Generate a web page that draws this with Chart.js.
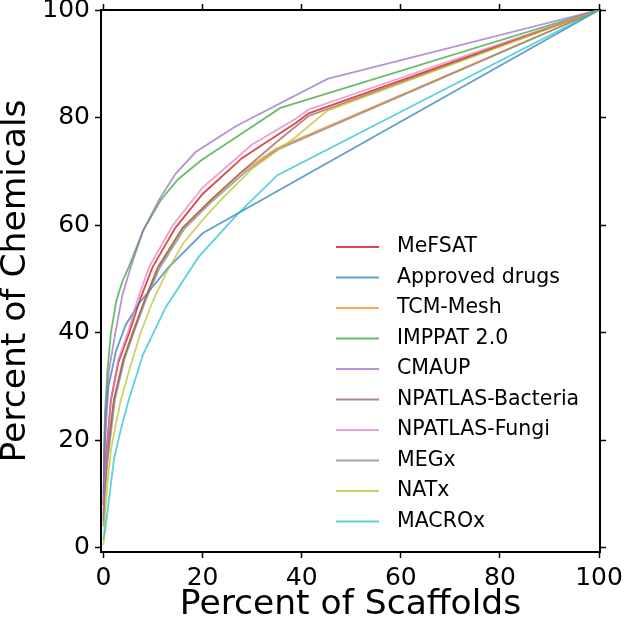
<!DOCTYPE html>
<html>
<head>
<meta charset="utf-8">
<script src="https://cdn.jsdelivr.net/npm/chart.js@4/dist/chart.umd.min.js"></script>
<style>
  html, body { margin: 0; padding: 0; background: #fff; }
  #wrap { width: 625px; height: 619px; }
</style>
</head>
<body>
<div id="wrap"><canvas id="scaffold-chart" width="625" height="619"></canvas></div>
<script>
// Cumulative scaffold curves: % of chemicals covered vs % of scaffolds.
var X_TICKS = [0, 20, 40, 60, 80, 100];
var Y_TICKS = [0, 20, 40, 60, 80, 100];

var MEFSAT_X = [0, 0.2, 0.6, 1.5, 3, 5.2, 7.5, 9.9, 14.5, 20, 28, 38.8, 41.4, 100];
var MEFSAT_Y = [8, 13, 18, 27.5, 34.5, 40, 46.5, 52.2, 59.5, 65.8, 72.5, 79, 80.8, 100];

var DRUGS_X = [0, 0.2, 0.5, 1, 2.5, 4.5, 7.2, 13, 20, 100];
var DRUGS_Y = [10, 17, 23, 30, 36.5, 41.5, 45.5, 52, 58.5, 100];

var TCM_X = [0, 0.2, 0.7, 2.1, 4, 5.9, 8.5, 11, 16, 21.7, 28, 35, 100];
var TCM_Y = [5, 10, 16, 27.5, 35, 40, 46.5, 52.2, 59.5, 64.7, 70, 74.3, 100];

var IMPPAT_X = [0, 0.1, 0.3, 0.8, 1.5, 2.6, 3.8, 5.1, 8, 11.6, 15, 19.8, 27, 35.7, 100];
var IMPPAT_Y = [10, 18, 25, 33, 40, 46, 49.5, 52.2, 59, 64.7, 68.5, 72.1, 76.5, 81.8, 100];

var CMAUP_X = [0, 0.15, 0.4, 1.1, 2.4, 3.8, 5.5, 8, 11.2, 14.5, 18.6, 26.7, 45.2, 100];
var CMAUP_Y = [8, 16, 25, 33, 40, 47, 52.2, 59, 64.7, 69.5, 73.6, 78.4, 87.2, 100];

var BACT_X = [0, 0.2, 0.7, 2.1, 4, 5.9, 8.5, 11, 16, 21.7, 28, 35, 41.4, 100];
var BACT_Y = [6, 11, 17, 27.5, 35, 40, 46.5, 52.2, 59.5, 64.7, 70, 75.5, 80.3, 100];

var FUNGI_X = [0, 0.15, 0.5, 1.5, 3, 4.9, 7, 9.2, 14, 20, 30, 38.8, 41.4, 100];
var FUNGI_Y = [5, 10, 16, 27.5, 35, 40, 46.5, 52.2, 60, 67, 75, 79.8, 81.5, 100];

var MEGX_X = [0, 0.2, 0.8, 2.3, 4.2, 6.1, 8.7, 11.3, 16.3, 22, 28.5, 35, 100];
var MEGX_Y = [4, 9, 16, 27.5, 35, 40, 46.5, 52, 59.3, 64.5, 69.8, 74, 100];

var NATX_X = [0, 0.3, 0.8, 1.5, 2.5, 3.5, 5.5, 7.5, 10, 12.6, 16, 20, 23.7, 30, 38.8, 45.2, 100];
var NATX_Y = [0.5, 6, 12, 18.2, 23, 27.5, 34, 40, 46, 51, 56.5, 61, 64.7, 70.5, 76.4, 81.3, 100];

var MACROX_X = [0, 0.3, 1.1, 2.1, 3.5, 5.1, 8, 12.6, 19.2, 27, 35.1, 100];
var MACROX_Y = [1.5, 3, 8.9, 16.4, 22, 27.5, 36, 44.8, 54.1, 62, 69.3, 100];

var SERIES = [
  { label: 'MeFSAT',            color: 'rgba(214,39,40,0.85)',  xs: MEFSAT_X, ys: MEFSAT_Y },
  { label: 'Approved drugs',    color: 'rgba(31,119,180,0.7)',  xs: DRUGS_X,  ys: DRUGS_Y },
  { label: 'TCM-Mesh',          color: 'rgba(255,127,14,0.7)',  xs: TCM_X,    ys: TCM_Y },
  { label: 'IMPPAT 2.0',        color: 'rgba(44,160,44,0.7)',   xs: IMPPAT_X, ys: IMPPAT_Y },
  { label: 'CMAUP',             color: 'rgba(148,103,189,0.7)', xs: CMAUP_X,  ys: CMAUP_Y },
  { label: 'NPATLAS-Bacteria',  color: 'rgba(140,86,75,0.7)',   xs: BACT_X,   ys: BACT_Y },
  { label: 'NPATLAS-Fungi',     color: 'rgba(227,119,194,0.7)', xs: FUNGI_X,  ys: FUNGI_Y },
  { label: 'MEGx',              color: 'rgba(127,127,127,0.7)', xs: MEGX_X,   ys: MEGX_Y },
  { label: 'NATx',              color: 'rgba(188,189,34,0.7)',  xs: NATX_X,   ys: NATX_Y },
  { label: 'MACROx',            color: 'rgba(23,190,207,0.7)',  xs: MACROX_X, ys: MACROX_Y }
];

var FONT = 'DejaVu Sans';

// legend drawn inside the plot, no frame (matplotlib style)
var insideLegend = {
  id: 'insideLegend',
  afterDraw: function(chart) {
    var ctx = chart.ctx;
    ctx.save();
    ctx.font = '20.5px "' + FONT + '"';
    ctx.textBaseline = 'middle';
    ctx.fillStyle = '#000';
    chart.data.datasets.forEach(function(ds, i) {
      var y = 247 + i * 30.5;
      ctx.strokeStyle = ds.borderColor;
      ctx.lineWidth = 2;
      ctx.beginPath();
      ctx.moveTo(336, y);
      ctx.lineTo(379, y);
      ctx.stroke();
      ctx.fillText(ds.label, 397, y);
    });
    ctx.restore();
  }
};

function fixedTicks(list) {
  return function(scale) {
    scale.ticks = list.map(function(v) { return { value: v }; });
  };
}

var gridOpts = { drawOnChartArea: false, drawTicks: true, tickLength: 6, tickColor: '#000', tickWidth: 1.5 };
var borderOpts = { display: true, color: '#000', width: 2 };

var datasets = SERIES.map(function(s, i) {
  return {
    label: s.label,
    data: s.xs.map(function(x, k) { return { x: x, y: s.ys[k] }; }),
    borderColor: s.color,
    backgroundColor: s.color,
    borderWidth: 1.8,
    pointRadius: 0,
    tension: 0,
    fill: false,
    order: SERIES.length - 1 - i
  };
});

new Chart(document.getElementById('scaffold-chart'), {
  type: 'line',
  data: { datasets: datasets },
  options: {
    responsive: false,
    animation: false,
    layout: { padding: 0 },
    plugins: { legend: { display: false }, tooltip: { enabled: false } },
    scales: {
      x: {
        type: 'linear', position: 'bottom', min: -0.5, max: 100.2,
        afterBuildTicks: fixedTicks(X_TICKS),
        afterFit: function(s) { s.height = 67; s.paddingLeft = 0; s.paddingRight = 0; },
        ticks: { font: { family: FONT, size: 25 }, color: '#000', padding: 5, maxRotation: 0, autoSkip: false },
        grid: gridOpts, border: borderOpts,
        title: { display: true, text: 'Percent of Scaffolds', color: '#000', padding: 0,
                 font: { family: FONT, size: 34.5, lineHeight: 0.8 } }
      },
      y: {
        type: 'linear', position: 'left', min: -0.75, max: 100,
        afterBuildTicks: fixedTicks(Y_TICKS),
        afterFit: function(s) { s.width = 101; s.paddingTop = 0; s.paddingBottom = 0; },
        ticks: { font: { family: FONT, size: 25 }, color: '#000', padding: 5 },
        grid: gridOpts, border: borderOpts,
        title: { display: true, text: 'Percent of Chemicals', color: '#000', padding: { top: 2 },
                 font: { family: FONT, size: 34.5, lineHeight: 0.8 } }
      },
      x2: {
        axis: 'x', type: 'linear', position: 'top', min: -0.5, max: 100.2,
        afterBuildTicks: fixedTicks(X_TICKS),
        afterFit: function(s) { s.height = 10; s.paddingLeft = 0; s.paddingRight = 0; },
        ticks: { display: false },
        grid: gridOpts, border: borderOpts
      },
      y2: {
        axis: 'y', type: 'linear', position: 'right', min: -0.75, max: 100,
        afterBuildTicks: fixedTicks(Y_TICKS),
        afterFit: function(s) { s.width = 25; s.paddingTop = 0; s.paddingBottom = 0; },
        ticks: { display: false },
        grid: gridOpts, border: borderOpts
      }
    }
  },
  plugins: [insideLegend]
});
</script>
</body>
</html>
